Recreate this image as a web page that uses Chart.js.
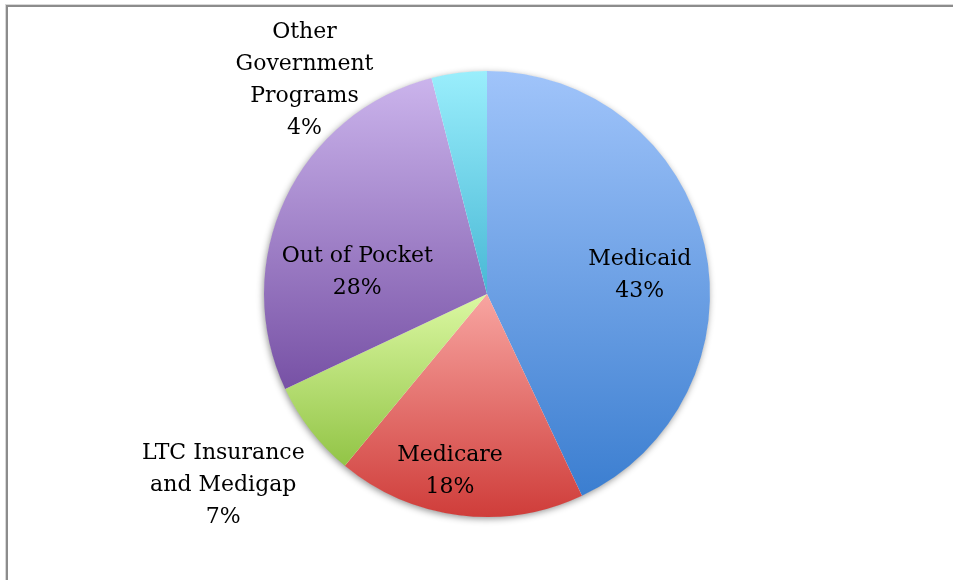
<!DOCTYPE html>
<html>
<head>
<meta charset="utf-8">
<script src="https://cdn.jsdelivr.net/npm/chart.js@4.4.1/dist/chart.umd.min.js"></script>
<style>
  html, body { margin: 0; padding: 0; background: #fff; }
  #wrap { position: relative; width: 953px; height: 580px; overflow: hidden; }
  #frame {
    position: absolute; left: 6px; top: 5px; width: 1000px; height: 1000px;
    border-left: 2px solid #8c8c8c; border-top: 2px solid #8c8c8c;
    box-shadow: -1px -1px 0 #d8d8d8;
  }
  #pie { position: absolute; left: 0; top: 0; }
</style>
</head>
<body>
<div id="wrap">
  <div id="frame"></div>
  <canvas id="pie" width="953" height="580"></canvas>
</div>
<script>
// Long-term care spending by payer (percent)
const categories = ['Medicaid', 'Medicare', 'LTC Insurance and Medigap', 'Out of Pocket', 'Other Government Programs'];
const shares = [43, 18, 7, 28, 4];
const labelLines = [
  ['Medicaid'],
  ['Medicare'],
  ['LTC Insurance', 'and Medigap'],
  ['Out of Pocket'],
  ['Other', 'Government', 'Programs']
];

// top / bottom colour of each slice's vertical gradient
const topColors = ['#a0c4fa', '#f8a5a1', '#dbf8a2', '#cbb4ec', '#9aeefc'];
const bottomColors = ['#3b7ed0', '#cf3d3a', '#92c446', '#7751a5', '#48b8d5'];

// label placement: angle shift from slice bisector (deg), distance as fraction of radius
const labelShift = [5.7, 4.6, 1.9, -15.6, -33.3];
const labelDist = [0.69, 0.81, 1.46, 0.59, 1.26];

const FONT = '22px "DejaVu Serif", serif';
const LINE_H = 32;

function sliceGradient(context) {
  const chart = context.chart;
  const area = chart.chartArea;
  if (!area) return topColors[context.dataIndex];
  const i = context.dataIndex;
  const cx = (area.left + area.right) / 2;
  const cy = (area.top + area.bottom) / 2;
  const r = Math.min(area.right - area.left, area.bottom - area.top) / 2;
  const total = shares.reduce((a, b) => a + b, 0);
  let before = 0;
  for (let k = 0; k < i; k++) before += shares[k];
  const a0 = -Math.PI / 2 + before / total * Math.PI * 2;
  const a1 = a0 + shares[i] / total * Math.PI * 2;
  // vertical extent of the wedge
  const ys = [cy, cy + r * Math.sin(a0), cy + r * Math.sin(a1)];
  [-Math.PI / 2, Math.PI / 2, Math.PI * 1.5].forEach(a => {
    if (a >= a0 && a <= a1) ys.push(cy + r * Math.sin(a));
  });
  const g = chart.ctx.createLinearGradient(0, Math.min(...ys), 0, Math.max(...ys));
  g.addColorStop(0, topColors[i]);
  g.addColorStop(1, bottomColors[i]);
  return g;
}

const pieShadow = {
  id: 'pieShadow',
  beforeDatasetsDraw(chart) {
    const arc = chart.getDatasetMeta(0).data[0];
    if (!arc) return;
    const ctx = chart.ctx;
    ctx.save();
    ctx.shadowColor = 'rgba(0,0,0,0.45)';
    ctx.shadowBlur = 7;
    ctx.shadowOffsetX = -1;
    ctx.shadowOffsetY = 2;
    ctx.fillStyle = '#ffffff';
    ctx.beginPath();
    ctx.arc(arc.x, arc.y, arc.outerRadius - 0.5, 0, Math.PI * 2);
    ctx.fill();
    ctx.restore();
  }
};

const sliceLabels = {
  id: 'sliceLabels',
  afterDatasetsDraw(chart) {
    const ctx = chart.ctx;
    const meta = chart.getDatasetMeta(0);
    ctx.save();
    ctx.font = FONT;
    ctx.fillStyle = '#000';
    ctx.textAlign = 'center';
    ctx.textBaseline = 'middle';
    meta.data.forEach((arc, i) => {
      const mid = (arc.startAngle + arc.endAngle) / 2 + labelShift[i] * Math.PI / 180;
      const d = arc.outerRadius * labelDist[i];
      const x = arc.x + Math.cos(mid) * d;
      const y = arc.y + Math.sin(mid) * d;
      const lines = labelLines[i].concat([shares[i] + '%']);
      const y0 = y - (lines.length - 1) * LINE_H / 2;
      lines.forEach((t, j) => ctx.fillText(t, x, y0 + j * LINE_H));
    });
    ctx.restore();
  }
};

new Chart(document.getElementById('pie'), {
  type: 'pie',
  data: {
    labels: categories,
    datasets: [{
      data: shares,
      backgroundColor: sliceGradient,
      borderWidth: 0
    }]
  },
  options: {
    responsive: false,
    animation: false,
    layout: { padding: { top: 71, bottom: 63, left: 21, right: 0 } },
    plugins: {
      legend: { display: false },
      tooltip: { enabled: false }
    }
  },
  plugins: [pieShadow, sliceLabels]
});
</script>
</body>
</html>
